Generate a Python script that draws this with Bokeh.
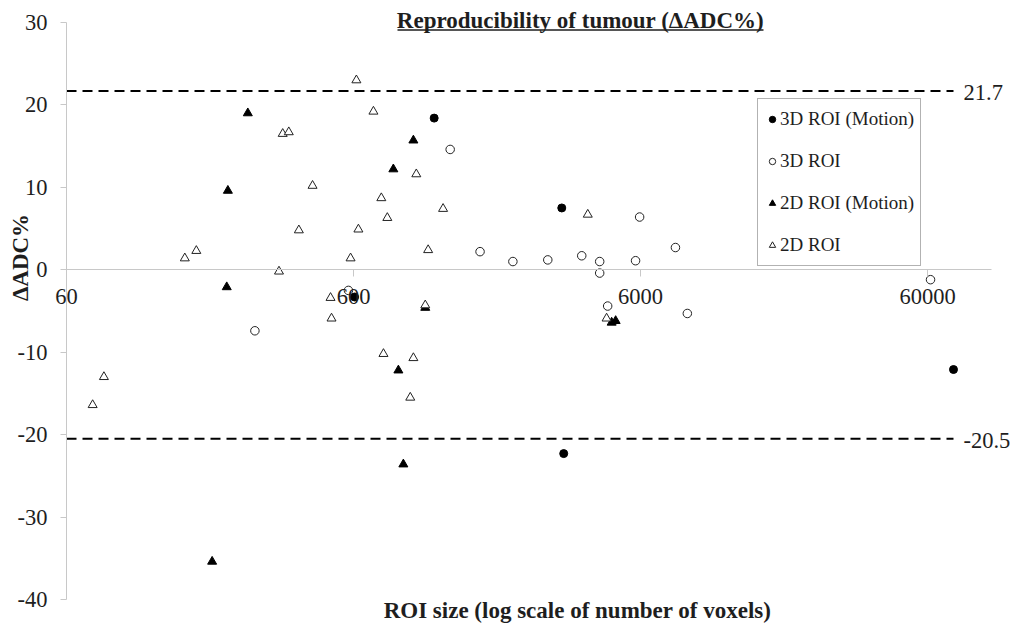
import math
from bokeh.plotting import figure
from bokeh.models import (Range1d, FixedTicker, NumeralTickFormatter, Label,
                          Legend, LegendItem)
from bokeh.embed import file_html
from bokeh.resources import INLINE

# ---------------- data ----------------
motion3d_x = [605, 1146, 3190, 3240, 73900]
motion3d_y = [-3.3, 18.4, 7.5, -22.3, -12.1]

roi3d_x = [272, 576, 1303, 1656, 2155, 2851, 3744, 4324, 4324, 4610, 5766,
           5957, 7940, 8735, 61460]
roi3d_y = [-7.4, -2.5, 14.6, 2.2, 1.0, 1.2, 1.7, 1.0, -0.4, -4.4, 1.1,
           6.4, 2.7, -5.3, -1.2]

motion2d_x = [193, 217, 219, 257, 826, 860, 895, 970, 1067, 4760, 4915]
motion2d_y = [-35.4, -2.1, 9.6, 19.0, 12.2, -12.2, -23.6, 15.7, -4.6, -6.4, -6.2]

roi2d_x = [74, 81, 155, 170, 330, 340, 357, 387, 432, 499, 503, 586, 614, 624,
           704, 750, 763, 787, 946, 970, 993, 1067, 1092, 1231, 3930, 4570]
roi2d_y = [-16.4, -13.0, 1.4, 2.3, -0.2, 16.5, 16.7, 4.8, 10.2, -3.4, -5.9, 1.4,
           23.0, 4.9, 19.2, 8.7, -10.2, 6.3, -15.5, -10.7, 11.6, -4.3, 2.4, 7.4,
           6.7, -5.9]

upper_limit = 21.7
lower_limit = -20.5

x_ticks = [60, 600, 6000, 60000]
y_ticks = [-40, -30, -20, -10, 0, 10, 20, 30]
x_axis_extent = (60, 100000)
y_axis_extent = (-40, 30)

series_labels = ["3D ROI (Motion)", "3D ROI", "2D ROI (Motion)", "2D ROI"]

title_text = "Reproducibility of tumour (\u0394ADC%)"
x_title = "ROI size (log scale of number of voxels)"
y_title = "\u0394ADC%"

# ---------------- layout: the frame covers the whole canvas ----------------
W, H = 1012, 623
AREA_L, AREA_R, AREA_T, AREA_B = 66, 990.7, 22, 599   # plot-area pixels

lx0, lx1 = math.log10(x_axis_extent[0]), math.log10(x_axis_extent[1])
dpp = (lx1 - lx0) / (AREA_R - AREA_L)
upp = (y_axis_extent[1] - y_axis_extent[0]) / (AREA_B - AREA_T)
x_range = Range1d(10 ** (lx0 - AREA_L * dpp), 10 ** (lx1 + (W - AREA_R) * dpp))
y_range = Range1d(y_axis_extent[0] - (H - AREA_B) * upp,
                  y_axis_extent[1] + AREA_T * upp)


def dx(px):
    """canvas pixel x -> data x (log scale)"""
    return 10 ** (lx0 + (px - AREA_L) * dpp)


def dy(py):
    """canvas pixel y -> data y"""
    return y_axis_extent[1] - (py - AREA_T) * upp


FONT = "Liberation Serif"
TXT = "#1e1e1e"
AX = "#c8c8c8"

p = figure(width=W, height=H, x_axis_type="log",
           x_range=x_range, y_range=y_range,
           output_backend="svg", toolbar_location=None,
           min_border_left=0, min_border_right=0,
           min_border_top=0, min_border_bottom=0)
p.outline_line_color = None
p.grid.visible = False
p.background_fill_color = "white"
p.border_fill_color = "white"

xa = p.xaxis[0]
xa.fixed_location = 0
xa.bounds = x_axis_extent
xa.ticker = FixedTicker(ticks=x_ticks)
xa.formatter = NumeralTickFormatter(format="0")
xa.axis_line_color = AX
xa.major_tick_line_color = AX
xa.minor_tick_line_color = None
xa.major_tick_in = 0
xa.major_tick_out = 7
xa.major_label_standoff = 12
xa.major_label_text_font = FONT
xa.major_label_text_font_size = "22.5px"
xa.major_label_text_color = TXT

ya = p.yaxis[0]
ya.fixed_location = x_axis_extent[0]
ya.bounds = y_axis_extent
ya.ticker = FixedTicker(ticks=y_ticks)
ya.formatter = NumeralTickFormatter(format="0")
ya.axis_line_color = AX
ya.major_tick_line_color = AX
ya.minor_tick_line_color = None
ya.major_tick_in = 0
ya.major_tick_out = 6
ya.major_label_standoff = 13
ya.major_label_text_font = FONT
ya.major_label_text_font_size = "22.5px"
ya.major_label_text_color = TXT

# limits of agreement (from axis start to the largest ROI)
x_all = motion3d_x + roi3d_x + motion2d_x + roi2d_x
line_x = [x_axis_extent[0], max(x_all)]
for lim in (upper_limit, lower_limit):
    p.line(line_x, [lim, lim], line_color="black", line_width=2,
           line_dash="10 6")

# scatter series
r1 = p.scatter(motion3d_x, motion3d_y, marker="circle", size=8,
               fill_color="black", line_color="black")
r2 = p.scatter(roi3d_x, roi3d_y, marker="circle", size=8.5,
               fill_color="white", line_color="#222222", line_width=1)
r3 = p.scatter(motion2d_x, motion2d_y, marker="triangle", size=9,
               fill_color="black", line_color="black")
r4 = p.scatter(roi2d_x, roi2d_y, marker="triangle", size=9,
               fill_color="white", line_color="#222222", line_width=1)

legend = Legend(items=[LegendItem(label=lbl, renderers=[r])
                       for lbl, r in zip(series_labels, [r1, r2, r3, r4])],
                location=(757, H - 266), orientation="vertical",
                padding=6, spacing=14, margin=0,
                glyph_width=16, glyph_height=28, label_height=28,
                label_standoff=0,
                label_text_font=FONT, label_text_font_size="19px",
                label_text_color=TXT,
                border_line_color="#666666", border_line_width=1,
                background_fill_color="white", background_fill_alpha=1)
p.add_layout(legend)

# limit value labels
for lim in (upper_limit, lower_limit):
    p.add_layout(Label(x=dx(963), y=lim, y_offset=-2, text=f"{lim:.1f}",
                       text_align="left", text_baseline="middle",
                       text_font=FONT, text_font_size="22.5px",
                       text_color=TXT))

# chart title (underlined)
p.add_layout(Label(x=dx(580), y=dy(20), text=title_text,
                   text_align="center", text_baseline="middle",
                   text_font=FONT, text_font_size="23px",
                   text_font_style="bold", text_color=TXT))
p.segment(x0=[dx(397)], y0=[dy(29.6)], x1=[dx(763)], y1=[dy(29.6)],
          line_color=TXT, line_width=1.5)

# axis titles
p.add_layout(Label(x=dx(577), y=dy(609.5), text=x_title,
                   text_align="center", text_baseline="middle",
                   text_font=FONT, text_font_size="23px",
                   text_font_style="bold", text_color=TXT))
p.add_layout(Label(x=dx(20), y=dy(257), text=y_title, angle=math.pi / 2,
                   text_align="center", text_baseline="middle",
                   text_font=FONT, text_font_size="23px",
                   text_font_style="bold", text_color=TXT))

open("out.html", "w").write(file_html(p, INLINE))
